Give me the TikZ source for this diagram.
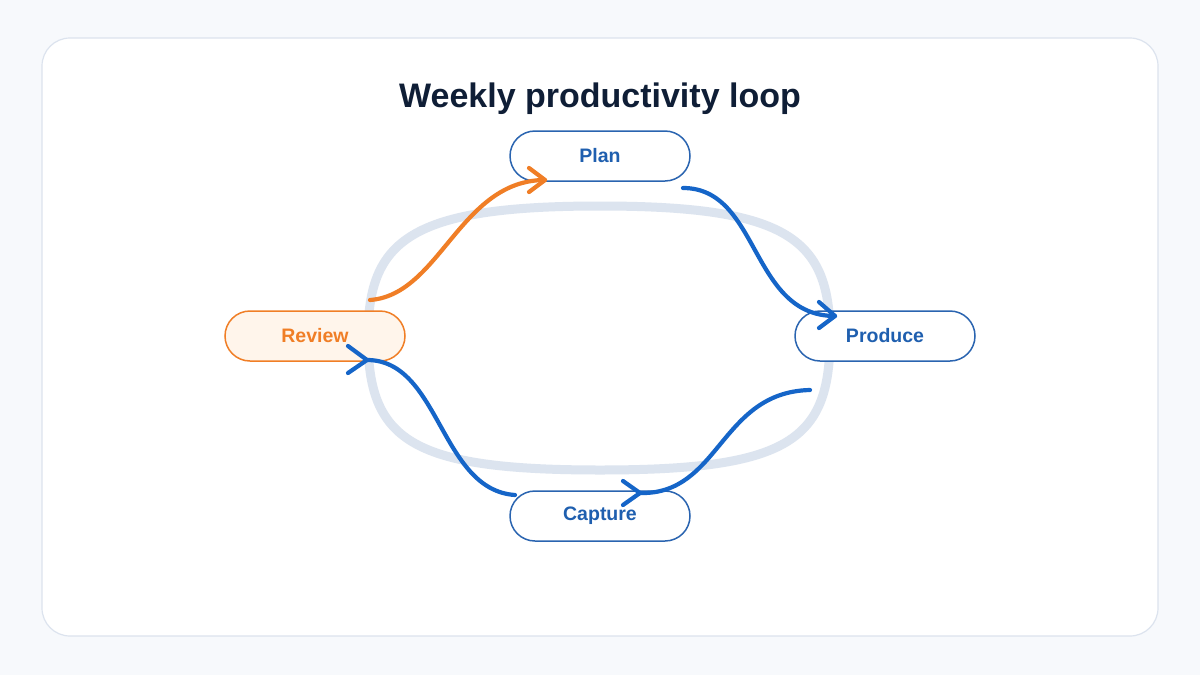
\documentclass[tikz,border=0pt]{standalone}
\usepackage{fontspec}
\setmainfont{Liberation Sans}
\begin{document}
\begin{tikzpicture}[x=1pt,y=-1pt,
  box/.style={draw=blue1,line width=1.5pt,fill=white,rounded corners=25pt,minimum width=180pt,minimum height=50pt,text=blueT,font=\fontsize{19.5}{20}\selectfont\bfseries},
  con/.style={draw=blueL,line width=4.2pt,line cap=round},
  chev/.style={con,line join=round}]
\definecolor{bg}{HTML}{F7F9FC}\definecolor{cardc}{HTML}{DCE3EE}
\definecolor{blue1}{HTML}{2A64B0}\definecolor{blueT}{HTML}{1F5FAF}
\definecolor{blueL}{HTML}{1565C8}\definecolor{orng}{HTML}{F07E26}
\definecolor{loopc}{HTML}{DCE4EF}\definecolor{ttl}{HTML}{0F1E36}
\fill[bg] (0,0) rectangle (1200,675);
\useasboundingbox (0,0) rectangle (1200,675);
\draw[cardc,fill=white,line width=1.2pt,rounded corners=28pt] (42,38) rectangle (1158,636);
\node[text=ttl,font=\fontsize{34}{38}\selectfont\bfseries] (title) at (600,99) {Weekly productivity loop};
\draw[loopc,line width=9pt] (600,206) .. controls (790,206) and (830,240) .. (830,337)
  .. controls (830,440) and (790,470) .. (600,470)
  .. controls (410,470) and (368,440) .. (368,337)
  .. controls (368,240) and (410,206) .. (600,206) -- cycle;
\node[box] (plan) at (600,156) {Plan};
\node[box] (produce) at (885,336) {Produce};
\node[box] (capture) at (600,516) {Capture};
\node[box,draw=orng,fill=orange!8,text=orng] (review) at (315,336) {Review};
\coordinate (a1) at (370,300); \coordinate (a2) at (545,180);
\coordinate (b1) at (683,188); \coordinate (b2) at (835,316);
\coordinate (c1) at (810,390); \coordinate (c2) at (640,493);
\coordinate (d1) at (515,495); \coordinate (d2) at (367,360);
\draw[con,draw=orng] (a1) .. controls (440,295) and (460,180) .. (a2);
\draw[chev,draw=orng] (529,168) -- (a2) -- (529,192);
\draw[con] (b1) .. controls (760,188) and (750,316) .. (b2);
\draw[chev] (819,302) -- (b2) -- (819,328);
\draw[con] (c1) .. controls (720,392) and (720,495) .. (c2);
\draw[chev] (623,481) -- (c2) -- (623,505);
\draw[con] (d1) .. controls (440,490) and (440,360) .. (d2);
\draw[chev] (348,346) -- (d2) -- (348,373);
\end{tikzpicture}
\end{document}
